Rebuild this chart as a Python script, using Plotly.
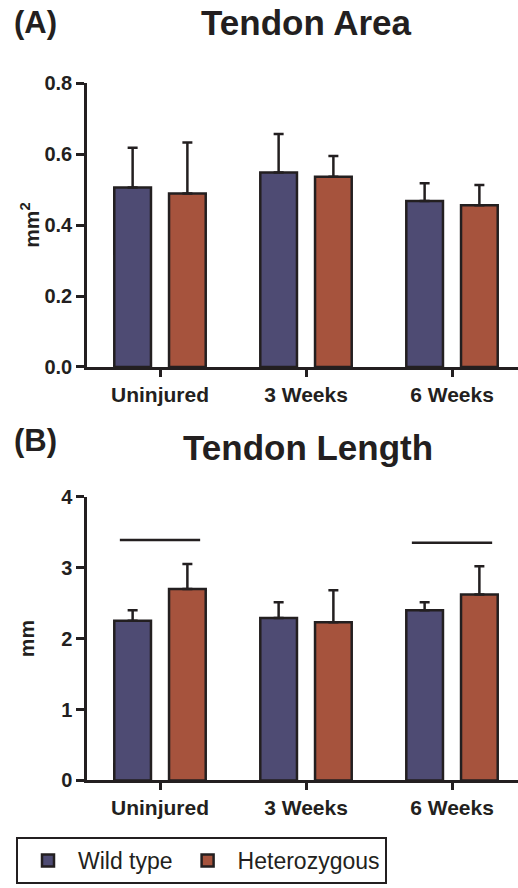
import plotly.graph_objects as go

categories = ["Uninjured", "3 Weeks", "6 Weeks"]
series_names = ["Wild type", "Heterozygous"]

area_wt = [0.506, 0.548, 0.468]
area_wt_err = [0.112, 0.109, 0.050]
area_het = [0.489, 0.536, 0.456]
area_het_err = [0.144, 0.059, 0.057]

length_wt = [2.25, 2.29, 2.40]
length_wt_err = [0.15, 0.22, 0.11]
length_het = [2.70, 2.23, 2.62]
length_het_err = [0.35, 0.45, 0.40]

sig_groups = [0, 2]
sig_heights = [3.39, 3.35]

area_ticks = [0.0, 0.2, 0.4, 0.6, 0.8]
length_ticks = [0, 1, 2, 3, 4]

colors = ["#4e4b73", "#a6533d"]
edge = "#231f20"
FONT = "Liberation Sans, Arial, sans-serif"

x_idx = list(range(len(categories)))

fig = go.Figure()

def add_bars(vals, errs, name, color, xa, ya, show):
    fig.add_trace(go.Bar(
        x=x_idx, y=vals, name=name, legendgroup=name, showlegend=show,
        marker=dict(color=color, line=dict(color=edge, width=2.5)),
        error_y=dict(type="data", array=errs, arrayminus=[0] * len(errs),
                     symmetric=False, color=edge, thickness=2.5, width=5),
        xaxis=xa, yaxis=ya,
    ))

add_bars(area_wt, area_wt_err, series_names[0], colors[0], "x", "y", True)
add_bars(area_het, area_het_err, series_names[1], colors[1], "x", "y", True)
add_bars(length_wt, length_wt_err, series_names[0], colors[0], "x2", "y2", False)
add_bars(length_het, length_het_err, series_names[1], colors[1], "x2", "y2", False)

half = 0.275
for g, h in zip(sig_groups, sig_heights):
    fig.add_trace(go.Scatter(
        x=[g - half, g + half], y=[h, h], mode="lines",
        line=dict(color=edge, width=2.5), showlegend=False,
        hoverinfo="skip", xaxis="x2", yaxis="y2",
    ))

W, H = 518, 888
def px_x(p):
    return p / W
def px_y(p):
    return 1 - p / H

xcommon = dict(
    range=[-0.5, 2.452], tickvals=x_idx, ticktext=categories,
    showline=True, linecolor=edge, linewidth=2.5,
    ticks="outside", ticklen=7, tickwidth=2.5, tickcolor=edge,
    tickfont=dict(family=FONT, size=21, color=edge, weight="bold"),
    showgrid=False, zeroline=False, fixedrange=True,
)
ycommon = dict(
    showline=True, linecolor=edge, linewidth=2.5,
    ticks="outside", ticklen=8, tickwidth=2.5, tickcolor=edge,
    tickfont=dict(family=FONT, size=20, color=edge, weight="bold"),
    showgrid=False, zeroline=False, fixedrange=True,
)

fig.update_layout(
    width=W, height=H,
    margin=dict(l=0, r=0, t=0, b=0),
    paper_bgcolor="white", plot_bgcolor="white",
    barmode="group", bargap=0.25, bargroupgap=0.33,
    font=dict(family=FONT, color=edge),
    xaxis=dict(domain=[px_x(87), 1], anchor="y", **xcommon),
    yaxis=dict(domain=[px_y(365), px_y(74)], anchor="x", range=[0, 0.8],
               tickvals=area_ticks, tickformat=".1f",
               title=dict(text="<b>mm<sup>2</sup></b>", font=dict(family=FONT, size=21, color=edge), standoff=0),
               **ycommon),
    xaxis2=dict(domain=[px_x(87), 1], anchor="y2", **xcommon),
    yaxis2=dict(domain=[px_y(789), px_y(498)], anchor="x2", range=[0, 4],
                tickvals=length_ticks,
                title=dict(text="<b>mm</b>", font=dict(family=FONT, size=21, color=edge), standoff=21),
                **ycommon),
    legend=dict(
        orientation="h", x=px_x(16), y=px_y(847), xanchor="left", yanchor="top",
        bordercolor=edge, borderwidth=2, bgcolor="white",
        font=dict(family=FONT, size=23, color=edge),
        itemwidth=50, traceorder="normal",
    ),
    annotations=[
        dict(text="<b>Tendon Area</b>", x=px_x(306), y=px_y(12), xref="paper", yref="paper",
             xanchor="center", yanchor="middle", showarrow=False,
             font=dict(family=FONT, size=35, color=edge)),
        dict(text="<b>(A)</b>", x=px_x(12), y=px_y(12), xref="paper", yref="paper",
             xanchor="left", yanchor="middle", showarrow=False,
             font=dict(family=FONT, size=31, color=edge)),
        dict(text="<b>Tendon Length</b>", x=px_x(308), y=px_y(448), xref="paper", yref="paper",
             xanchor="center", yanchor="middle", showarrow=False,
             font=dict(family=FONT, size=35, color=edge)),
        dict(text="<b>(B)</b>", x=px_x(12), y=px_y(440), xref="paper", yref="paper",
             xanchor="left", yanchor="middle", showarrow=False,
             font=dict(family=FONT, size=31, color=edge)),
    ],
)

fig.write_html("out.html")
